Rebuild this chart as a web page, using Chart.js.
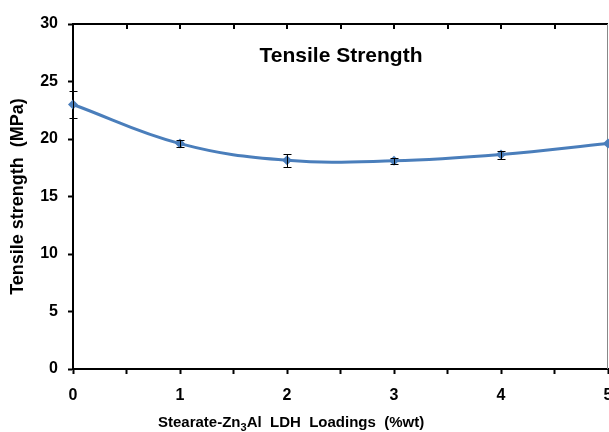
<!DOCTYPE html>
<html>
<head>
<meta charset="utf-8">
<script src="https://cdn.jsdelivr.net/npm/chart.js@4/dist/chart.umd.min.js"></script>
<style>
  html, body { margin: 0; padding: 0; background: #fff; overflow: hidden; }
  #wrap { width: 609px; height: 432px; overflow: hidden; }
</style>
</head>
<body>
<div id="wrap"><canvas id="chart" width="613" height="432"></canvas></div>
<script>
// loading of stearate-Zn3Al LDH (%wt)
var loadings = [0, 1, 2, 3, 4, 5];
// tensile strength (MPa)
var strength = [23.0, 19.6, 18.15, 18.1, 18.65, 19.6];
// error bar half heights (MPa)
var errors = [1.2, 0.3, 0.55, 0.25, 0.35, 0.0];
var yTicks = [0, 5, 10, 15, 20, 25, 30];
var xTicks = [0, 0.5, 1, 1.5, 2, 2.5, 3, 3.5, 4, 4.5, 5];

var FONT = "'Liberation Sans', Arial, sans-serif";
var lineColor = "#4a7ebb";

var points = loadings.map(function (x, i) { return { x: x, y: strength[i] }; });

// error bars drawn with the chart's own scales
var errorBars = {
    id: 'errorBars',
    afterDatasetsDraw: function (chart) {
        var xs = chart.scales.x, ys = chart.scales.y, ctx = chart.ctx;
        ctx.save();
        ctx.strokeStyle = '#000';
        ctx.lineWidth = 1;
        loadings.forEach(function (x, i) {
            if (!errors[i]) return;
            var px = Math.round(xs.getPixelForValue(x)) + 0.5;
            var top = Math.round(ys.getPixelForValue(strength[i] + errors[i])) + 0.5;
            var bot = Math.round(ys.getPixelForValue(strength[i] - errors[i])) + 0.5;
            ctx.beginPath();
            ctx.moveTo(px, top); ctx.lineTo(px, bot);
            ctx.moveTo(px - 4, top); ctx.lineTo(px + 4, top);
            ctx.moveTo(px - 4, bot); ctx.lineTo(px + 4, bot);
            ctx.stroke();
        });
        ctx.restore();
    }
};

// frame, top inward ticks, inner title and x axis title with subscript
var frame = {
    id: 'frame',
    beforeDatasetsDraw: function (chart) {
        var a = chart.chartArea, ctx = chart.ctx, xs = chart.scales.x;
        ctx.save();
        ctx.strokeStyle = '#000';
        ctx.lineWidth = 2;
        ctx.beginPath();
        ctx.moveTo(a.left, a.top); ctx.lineTo(a.right, a.top);
        ctx.stroke();
        xTicks.forEach(function (v) {
            if (v === 0 || v === 5) return;
            var px = Math.round(xs.getPixelForValue(v));
            ctx.beginPath();
            ctx.moveTo(px, a.top); ctx.lineTo(px, a.top + 5);
            ctx.stroke();
        });
        ctx.strokeStyle = '#888';
        ctx.lineWidth = 1;
        ctx.beginPath();
        ctx.moveTo(a.right - 0.5, a.top); ctx.lineTo(a.right - 0.5, a.bottom);
        ctx.stroke();
        ctx.fillStyle = '#000';
        ctx.font = 'bold 21px ' + FONT;
        ctx.textAlign = 'center';
        ctx.textBaseline = 'middle';
        ctx.fillText('Tensile Strength', 341, 56);

        // x axis title
        ctx.textAlign = 'left';
        ctx.textBaseline = 'alphabetic';
        var x = 158, y = 427;
        var parts = [['Stearate-Zn', 15, 0], ['3', 11, 4], ['Al  LDH  Loadings  (%wt)', 15, 0]];
        parts.forEach(function (p) {
            ctx.font = 'bold ' + p[1] + 'px ' + FONT;
            ctx.fillText(p[0], x, y + p[2]);
            x += ctx.measureText(p[0]).width;
        });
        ctx.restore();
    }
};

new Chart(document.getElementById('chart').getContext('2d'), {
    type: 'line',
    data: {
        datasets: [{
            data: points,
            borderColor: lineColor,
            backgroundColor: lineColor,
            borderWidth: 3,
            tension: 0.4,
            pointStyle: 'rectRot',
            pointRadius: 5,
            pointBorderWidth: 0,
            clip: false
        }]
    },
    options: {
        responsive: false,
        animation: false,
        layout: { padding: { top: 24, right: 0, left: 0, bottom: 0 } },
        plugins: { legend: { display: false }, tooltip: { enabled: false } },
        scales: {
            x: {
                type: 'linear',
                min: 0, max: 5,
                afterBuildTicks: function (s) {
                    s.ticks = xTicks.map(function (v) { return { value: v }; });
                },
                afterFit: function (s) { s.height = 63; s.paddingLeft = 0; s.paddingRight = 0; },
                ticks: {
                    autoSkip: false, maxRotation: 0, padding: 12,
                    color: '#000', font: { family: FONT, size: 16, weight: 'bold' },
                    callback: function (v) { return Number.isInteger(v) ? v : ''; }
                },
                grid: { drawOnChartArea: false, tickLength: 5, tickColor: '#000', tickWidth: 2 },
                border: { color: '#000', width: 2 },
                title: { display: false }
            },
            y: {
                min: 0, max: 30,
                afterBuildTicks: function (s) {
                    s.ticks = yTicks.map(function (v) { return { value: v }; });
                },
                afterFit: function (s) { s.width = 73; },
                ticks: {
                    padding: 10, color: '#000',
                    font: { family: FONT, size: 16, weight: 'bold' }
                },
                grid: { drawOnChartArea: false, tickLength: 5, tickColor: '#000', tickWidth: 2 },
                border: { color: '#000', width: 2 },
                title: {
                    display: true, text: 'Tensile strength  (MPa)',
                    color: '#000', font: { family: FONT, size: 18, weight: 'bold' },
                    padding: { top: 7, bottom: 0 }
                }
            }
        }
    },
    plugins: [frame, errorBars]
});
</script>
</body>
</html>
